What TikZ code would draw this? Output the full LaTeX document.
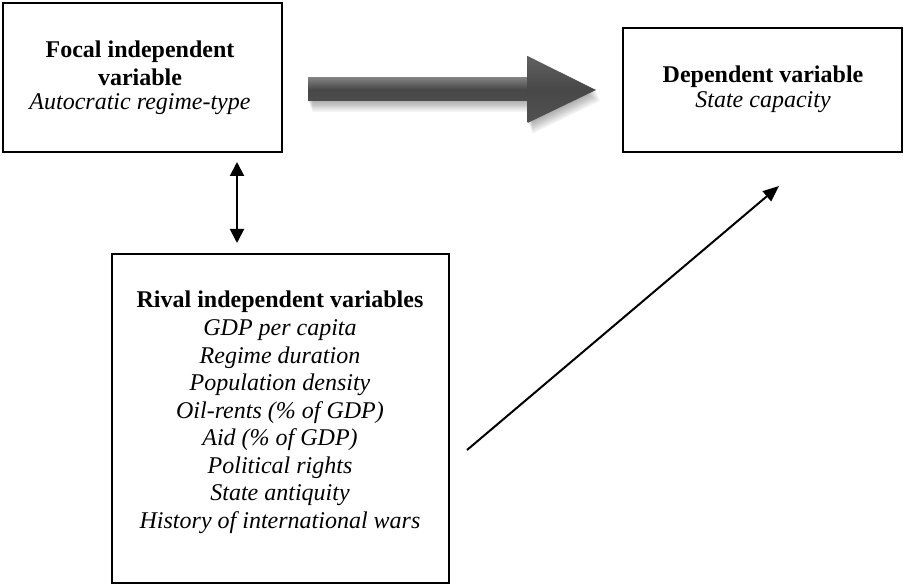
\documentclass[tikz,border=0pt]{standalone}
\usepackage{fontspec}
\setmainfont{Liberation Serif}
\usetikzlibrary{arrows.meta}
\begin{document}
\begin{tikzpicture}[x=1pt,y=-1pt,
  box/.style={draw=black,line width=1.2pt,rectangle,inner sep=0pt,fill=white},
  lbl/.style={anchor=base,inner sep=0pt,font=\fontsize{24}{28}\selectfont},
  conn/.style={line width=2pt},
]
\useasboundingbox (0,0) rectangle (905,585);
% boxes
\node[box,minimum width=279pt,minimum height=149pt] (focal) at (142.5,77.5) {};
\node[box,minimum width=279pt,minimum height=124pt] (dep) at (762.5,90) {};
\node[box,minimum width=337pt,minimum height=329pt] (rival) at (280.5,418.5) {};
% texts
\node[lbl] (f1) at (140,58) {\bfseries Focal independent};
\node[lbl] (f2) at (140,86) {\bfseries variable};
\node[lbl] (f3) at (140,110) {\itshape Autocratic regime-type};
\node[lbl] (d1) at (763,83) {\bfseries Dependent variable};
\node[lbl] (d2) at (763,108) {\itshape State capacity};
\node[lbl] (r0) at (280,308) {\bfseries Rival independent variables};
\foreach \t [count=\i] in {GDP per capita,Regime duration,Population density,Oil-rents (\% of GDP),Aid (\% of GDP),Political rights,State antiquity,History of international wars}{
  \node[lbl] (r\i) at (280,308+27.5*\i) {\itshape \t};
}
% big grey arrow with soft shadow
\foreach \k in {1,...,9}{
  \fill[black,opacity=0.04,shift={(0.5*\k,1.2*\k)}]
    (308,78) -- (528,78) -- (528,56) -- (596,90) -- (528,123) -- (528,101) -- (308,101) -- cycle;
}
\shade[top color=black!50,bottom color=black!70,middle color=black!72]
  (308,78) -- (528,78) -- (528,101) -- (308,101) -- cycle;
\shade[top color=black!62,bottom color=black!68,middle color=black!72]
  (527.5,56) -- (596,90) -- (527.5,123) -- cycle;
% connectors
\coordinate (da1) at (237,162);
\coordinate (da2) at (237,243);
\draw[conn,{Triangle[length=14pt,width=14pt]}-{Triangle[length=14pt,width=14pt]}] (da1) -- (da2);
\coordinate (rv) at (467,450);
\coordinate (dv) at (779,186);
\draw[conn,-{Triangle[length=16pt,width=13pt]}] (rv) -- (dv);
\end{tikzpicture}
\end{document}
